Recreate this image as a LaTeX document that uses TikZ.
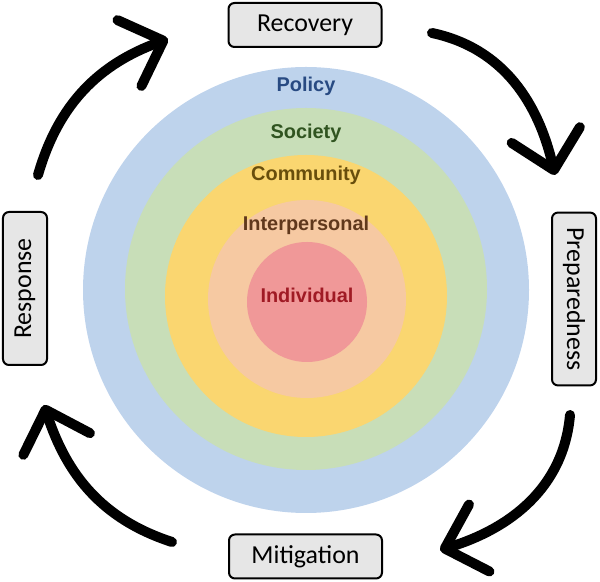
\documentclass[tikz,border=0pt]{standalone}
\usepackage{fontspec}
\setmainfont{Carlito}
\newfontfamily\ringfont{Liberation Sans}
\usetikzlibrary{arrows.meta}
\definecolor{policyring}{RGB}{190,211,236}
\definecolor{societyring}{RGB}{200,222,184}
\definecolor{communityring}{RGB}{250,214,112}
\definecolor{interring}{RGB}{246,201,162}
\definecolor{individualring}{RGB}{240,152,152}
\definecolor{policytext}{RGB}{40,74,130}
\definecolor{societytext}{RGB}{48,84,32}
\definecolor{communitytext}{RGB}{104,78,12}
\definecolor{intertext}{RGB}{96,56,28}
\definecolor{individualtext}{RGB}{160,26,36}
\definecolor{boxgray}{RGB}{230,230,230}
\tikzset{
  phase/.style={draw=black, line width=2bp, rounded corners=6bp, fill=boxgray,
    minimum width=153bp, minimum height=44bp, inner xsep=15bp,
    font=\fontsize{26}{30}\selectfont},
  ring/.style={font=\ringfont\bfseries\fontsize{20}{24}\selectfont},
  phasearrow/.style={line width=10bp, line cap=round,
    -{Straight Barb[length=36bp, width=70bp, round]}}
}

\begin{document}
\begin{tikzpicture}[x=1bp, y=1bp]
  \useasboundingbox (0,0) rectangle (600,582);

  % Rings
  \fill[policyring] (306,292) circle (223);
  \fill[societyring] (306,293) circle (181);
  \fill[communityring] (306,286) circle (141);
  \fill[interring] (307,283) circle (99);
  \fill[individualring] (307,280) circle (60);

  % Ring labels
  \node[ring, text=policytext] (policy) at (306,496) {Policy};
  \node[ring, text=societytext] (society) at (306,449) {Society};
  \node[ring, text=communitytext] (community) at (306,407) {Community};
  \node[ring, text=intertext] (interpersonal) at (306,357) {Interpersonal};
  \node[ring, text=individualtext] (individual) at (307,287) {Individual};

  % Phases
  \node[phase] (recovery) at (305,557) {Recovery};
  \node[phase, rotate=-90] (preparedness) at (574,283) {Preparedness};
  \node[phase] (mitigation) at (305.5,25.5) {Mitigation};
  \node[phase, rotate=90] (response) at (25,293.5) {Response};

  % Arrows between phases
  \coordinate (resp-out) at (38,407);
  \coordinate (reco-in) at (168,543);
  \coordinate (reco-out) at (432,549);
  \coordinate (prep-in) at (555,407);
  \coordinate (prep-out) at (570,167);
  \coordinate (miti-in) at (440,32);
  \coordinate (miti-out) at (172,40);
  \coordinate (resp-in) at (44,177);
  \draw[phasearrow] (resp-out) to[out=74, in=200] (reco-in);
  \draw[phasearrow] (reco-out) to[out=-12, in=103] (prep-in);
  \draw[phasearrow] (prep-out) to[out=265, in=17] (miti-in);
  \draw[phasearrow] (miti-out) to[out=162, in=288] (resp-in);
\end{tikzpicture}
\end{document}
